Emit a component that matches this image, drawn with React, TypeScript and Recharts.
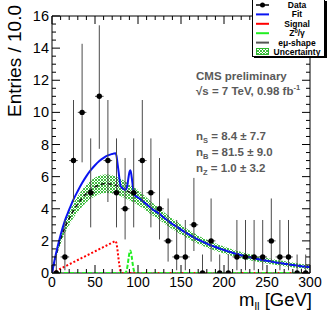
import React from 'react';
import { ComposedChart, Line, Area, Scatter, XAxis, YAxis, ErrorBar, ReferenceArea } from 'recharts';

// ---- data ----
const binCenters = [5,15,25,35,45,55,65,75,85,95,105,115,125,135,145,155,165,175,185,195,205,215,225,235,245,255,265,275,285,295];
const counts = [0,1,7,10,5,11,7,5,4,5,7,5,4,2,1,1,3,0,2,0,0,1,1,1,1,2,1,1,0,0];
const errLow = [0,0.83,2.58,3.11,2.16,3.27,2.58,2.16,1.91,2.16,2.58,2.16,1.91,1.29,0.83,0.83,1.63,0,1.29,0,0,0.83,0.83,0.83,0.83,1.29,0.83,0.83,0,0];
const errHigh = [1.15,2.3,3.77,4.27,3.38,4.42,3.77,3.38,3.16,3.38,3.77,3.38,3.16,2.64,2.3,2.3,2.92,1.15,2.64,1.15,1.15,2.3,2.3,2.3,2.3,2.64,2.3,2.3,1.15,1.15];
const binHalfWidth = 5;

const bgMass = [0,2.5,5,7.5,10,15,20,25,30,35,40,45,50,55,60,65,70,75,80,85,90,95,100,105,110,115,120,125,130,135,140,145,150,155,160,165,170,175,180,185,190,195,200,205,210,215,220,225,230,235,240,245,250,255,260,265,270,275,280,285,290,295,300];
const bgValues = [0,0.6,1.15,1.65,2.1,2.85,3.4,3.9,4.3,4.65,4.95,5.18,5.36,5.48,5.55,5.56,5.52,5.44,5.32,5.18,5.03,4.87,4.7,4.5,4.28,4.05,3.85,3.68,3.45,3.25,3.05,2.88,2.7,2.53,2.37,2.22,2.08,1.95,1.83,1.72,1.62,1.52,1.43,1.34,1.26,1.18,1.11,1.04,0.98,0.92,0.86,0.81,0.76,0.71,0.66,0.62,0.58,0.54,0.5,0.46,0.42,0.39,0.36];
const bandHalf = [0,0.1,0.18,0.24,0.29,0.36,0.42,0.46,0.5,0.53,0.55,0.57,0.58,0.58,0.58,0.58,0.57,0.56,0.54,0.52,0.5,0.48,0.46,0.44,0.42,0.4,0.38,0.37,0.35,0.34,0.33,0.32,0.3,0.29,0.28,0.27,0.26,0.25,0.25,0.24,0.23,0.22,0.22,0.21,0.21,0.2,0.2,0.19,0.19,0.18,0.18,0.18,0.17,0.17,0.16,0.16,0.16,0.15,0.15,0.15,0.14,0.14,0.14];

const fitMass = [0,2.5,5,7.5,10,15,20,25,30,35,40,45,50,55,60,65,70,72,74,75,76,77,78,79,80,82,84,85,86,87,88,89,90,91,92,93,94,95,96,97,100,105,110,115,120,125,130,135,140,145,150,155,160,165,170,175,180,185,190,195,200,205,210,215,220,225,230,235,240,245,250,255,260,265,270,275,280,285,290,295,300];
const fitValues = [0,0.67,1.29,1.85,2.37,3.26,3.94,4.58,5.11,5.6,6.03,6.4,6.71,6.97,7.17,7.32,7.41,7.44,7.45,7.29,6.91,6.49,6.05,5.62,5.38,5.29,5.21,5.18,5.2,5.32,5.59,5.96,6.28,6.4,6.22,5.83,5.4,5.07,4.89,4.8,4.7,4.5,4.28,4.05,3.85,3.68,3.45,3.25,3.05,2.88,2.7,2.53,2.37,2.22,2.08,1.95,1.83,1.72,1.62,1.52,1.43,1.34,1.26,1.18,1.11,1.04,0.98,0.92,0.86,0.81,0.76,0.71,0.66,0.62,0.58,0.54,0.5,0.46,0.42,0.39,0.36];

const sigMass = [0,10,20,30,40,50,60,70,74,75,76,77,78,79,80,81,300];
const sigValues = [0,0.27,0.54,0.81,1.08,1.35,1.62,1.89,2.0,1.85,1.5,1.05,0.62,0.25,0.06,0,0];

const zMass = [0,85,86,87,88,89,90,91,92,93,94,95,96,97,300];
const zValues = [0,0,0.05,0.2,0.5,0.9,1.25,1.4,1.25,0.9,0.5,0.2,0.05,0,0];

// all tick positions (major every 50 / 2, minor every 10 / 0.5)
const xTicks = [0,10,20,30,40,50,60,70,80,90,100,110,120,130,140,150,160,170,180,190,200,210,220,230,240,250,260,270,280,290,300];
const xMajorStep = 50;
const yTicks = [0,0.5,1,1.5,2,2.5,3,3.5,4,4.5,5,5.5,6,6.5,7,7.5,8,8.5,9,9.5,10,10.5,11,11.5,12,12.5,13,13.5,14,14.5,15,15.5,16];
const yMajorStep = 2;

// ---- tables built from the arrays ----
const bandTable = bgMass.map((m, i) => ({ m, bg: bgValues[i], band: [bgValues[i] - bandHalf[i], bgValues[i] + bandHalf[i]] }));
const fitTable = fitMass.map((m, i) => ({ m, fit: fitValues[i] }));
const sigTable = sigMass.map((m, i) => ({ m, sig: sigValues[i] }));
const zTable = zMass.map((m, i) => ({ m, z: zValues[i] }));
const dataTable = binCenters.map((m, i) => ({ m, n: counts[i], ey: [errLow[i], errHigh[i]], ex: binHalfWidth }));

const FONT = '"Liberation Sans", Arial, Helvetica, sans-serif';
const MAJ = 8;
const MIN = 4;

const XBottomTick = (p: any) => {
  const major = p.payload.value % xMajorStep === 0;
  return (
    <g>
      <line x1={p.x} y1={p.y} x2={p.x} y2={p.y - (major ? MAJ : MIN)} stroke="#000" strokeWidth={1} />
      {major && <text x={p.x} y={p.y + 14} textAnchor="middle" fontSize={14} fontFamily={FONT} fill="#000">{p.payload.value}</text>}
    </g>
  );
};
const XTopTick = (p: any) => {
  const major = p.payload.value % xMajorStep === 0;
  return <line x1={p.x} y1={p.y} x2={p.x} y2={p.y + (major ? MAJ : MIN)} stroke="#000" strokeWidth={1} />;
};
const YLeftTick = (p: any) => {
  const major = p.payload.value % yMajorStep === 0;
  return (
    <g>
      <line x1={p.x} y1={p.y} x2={p.x + (major ? MAJ : MIN)} y2={p.y} stroke="#000" strokeWidth={1} />
      {major && <text x={p.x - 3} y={p.y + 5} textAnchor="end" fontSize={14.5} fontFamily={FONT} fill="#000">{p.payload.value}</text>}
    </g>
  );
};
const YRightTick = (p: any) => {
  const major = p.payload.value % yMajorStep === 0;
  return <line x1={p.x} y1={p.y} x2={p.x - (major ? MAJ : MIN)} y2={p.y} stroke="#000" strokeWidth={1} />;
};

const DataDot = (p: any) => <circle cx={p.cx} cy={p.cy} r={2.7} fill="#000" />;

const axisCommon = { tickSize: 0, tickMargin: 0, axisLine: false, tickLine: false, interval: 0 as const, allowDataOverflow: true };

export default function App() {
  const W = 327, H = 314;
  return (
    <div style={{ position: 'absolute', left: 0, top: 0, width: W, height: H, background: '#fff' }}>
      <svg width={0} height={0} style={{ position: 'absolute' }}>
        <defs>
          <pattern id="hatch" patternUnits="userSpaceOnUse" width={3} height={3}>
            <path d="M0,0 L3,3 M3,0 L0,3" stroke="#2db82d" strokeWidth={0.9} />
          </pattern>
        </defs>
      </svg>
      <div style={{ position: 'absolute', left: 0, top: 0 }}>
        <ComposedChart width={W} height={H} data={bandTable} margin={{ top: 15, right: 16, bottom: 40, left: 51 }}>
          <XAxis xAxisId="b" type="number" dataKey="m" domain={[0, 300]} ticks={xTicks} height={1} orientation="bottom" tick={<XBottomTick />} {...axisCommon} />
          <XAxis xAxisId="t" type="number" dataKey="m" domain={[0, 300]} ticks={xTicks} height={1} orientation="top" tick={<XTopTick />} {...axisCommon} />
          <YAxis yAxisId="l" type="number" domain={[0, 16]} ticks={yTicks} width={1} orientation="left" tick={<YLeftTick />} {...axisCommon} />
          <YAxis yAxisId="r" type="number" domain={[0, 16]} ticks={yTicks} width={1} orientation="right" tick={<YRightTick />} {...axisCommon} />

          <Area xAxisId="b" yAxisId="l" dataKey="band" type="monotone" stroke="none" fill="url(#hatch)" fillOpacity={1} isAnimationActive={false} />
          <Line xAxisId="b" yAxisId="l" dataKey="bg" type="monotone" stroke="#111" strokeWidth={1.5} strokeDasharray="4 3" dot={false} isAnimationActive={false} />
          <Line xAxisId="b" yAxisId="l" data={sigTable} dataKey="sig" type="linear" stroke="#ff0000" strokeWidth={2} strokeDasharray="2 2" dot={false} isAnimationActive={false} />
          <Line xAxisId="b" yAxisId="l" data={zTable} dataKey="z" type="monotone" stroke="#22ee22" strokeWidth={2} strokeDasharray="4 2" dot={false} isAnimationActive={false} />
          <Line xAxisId="b" yAxisId="l" data={fitTable} dataKey="fit" type="monotone" stroke="#0a14f0" strokeWidth={2} dot={false} isAnimationActive={false} />
          <Scatter xAxisId="b" yAxisId="l" data={dataTable} dataKey="n" shape={<DataDot />} isAnimationActive={false}>
            <ErrorBar dataKey="ey" direction="y" width={0} stroke="#4a4a4a" strokeWidth={1} />
            <ErrorBar dataKey="ex" direction="x" width={0} stroke="#4a4a4a" strokeWidth={1} />
          </Scatter>
          <ReferenceArea xAxisId="b" yAxisId="l" x1={0} x2={300} y1={0} y2={16} fill="none" fillOpacity={0} stroke="#000" strokeWidth={1} ifOverflow="visible" />
        </ComposedChart>
      </div>
      <svg width={W} height={H} style={{ position: 'absolute', left: 0, top: 0, pointerEvents: 'none' }} fontFamily={FONT}>
        {/* axis titles */}
        <text transform="translate(21,5) rotate(-90)" textAnchor="end" fontSize={19} fill="#000">Entries / 10.0</text>
        <text x={312} y={306} textAnchor="end" fontSize={18.5} fill="#000">
          m<tspan fontSize={11.5} dy={4}>ll</tspan><tspan dy={-4}> [GeV]</tspan>
        </text>
        {/* annotations */}
        <g fill="#5a5a5a" fontWeight="bold">
          <text x={196} y={80} fontSize={11.5}>CMS preliminary</text>
          <text x={196} y={95} fontSize={11.5}>√s = 7 TeV, 0.98 fb<tspan fontSize={7.5} dy={-5}>-1</tspan></text>
          <text x={196} y={140} fontSize={11.5}>n<tspan fontSize={7.5} dy={3}>S</tspan><tspan dy={-3}> = 8.4 ± 7.7</tspan></text>
          <text x={196} y={156} fontSize={11.5}>n<tspan fontSize={7.5} dy={3}>B</tspan><tspan dy={-3}> = 81.5 ± 9.0</tspan></text>
          <text x={196} y={172} fontSize={11.5}>n<tspan fontSize={7.5} dy={3}>Z</tspan><tspan dy={-3}> = 1.0 ± 3.2</tspan></text>
        </g>
        {/* legend */}
        <rect x={254} y={1} width={73} height={57} fill="#000" />
        <rect x={252.5} y={-0.5} width={72} height={57} fill="#fff" stroke="#000" strokeWidth={1} />
        <g fontSize={8.5} fontWeight="bold" textAnchor="middle" fill="#000">
          <line x1={256} y1={5} x2={269} y2={5} stroke="#000" strokeWidth={1.5} />
          <circle cx={262.5} cy={5} r={2.5} fill="#000" />
          <text x={297} y={8}>Data</text>
          <line x1={256} y1={14.4} x2={269} y2={14.4} stroke="#0a14f0" strokeWidth={2} />
          <text x={297} y={17.4}>Fit</text>
          <line x1={256} y1={23.8} x2={269} y2={23.8} stroke="#ff0000" strokeWidth={2} />
          <text x={297} y={26.8}>Signal</text>
          <line x1={256} y1={33.2} x2={269} y2={33.2} stroke="#22ee22" strokeWidth={2} />
          <text x={297} y={36.2}>Z<tspan fontSize={6} dy={-3}>0</tspan><tspan dy={3}>/γ</tspan></text>
          <line x1={256} y1={42.6} x2={269} y2={42.6} stroke="#555" strokeWidth={2} />
          <text x={297} y={45.6}>eμ-shape</text>
          <rect x={256.5} y={48.5} width={12} height={6} fill="url(#hatch)" stroke="#2db82d" strokeWidth={1} />
          <text x={297} y={55}>Uncertainty</text>
        </g>
      </svg>
    </div>
  );
}
